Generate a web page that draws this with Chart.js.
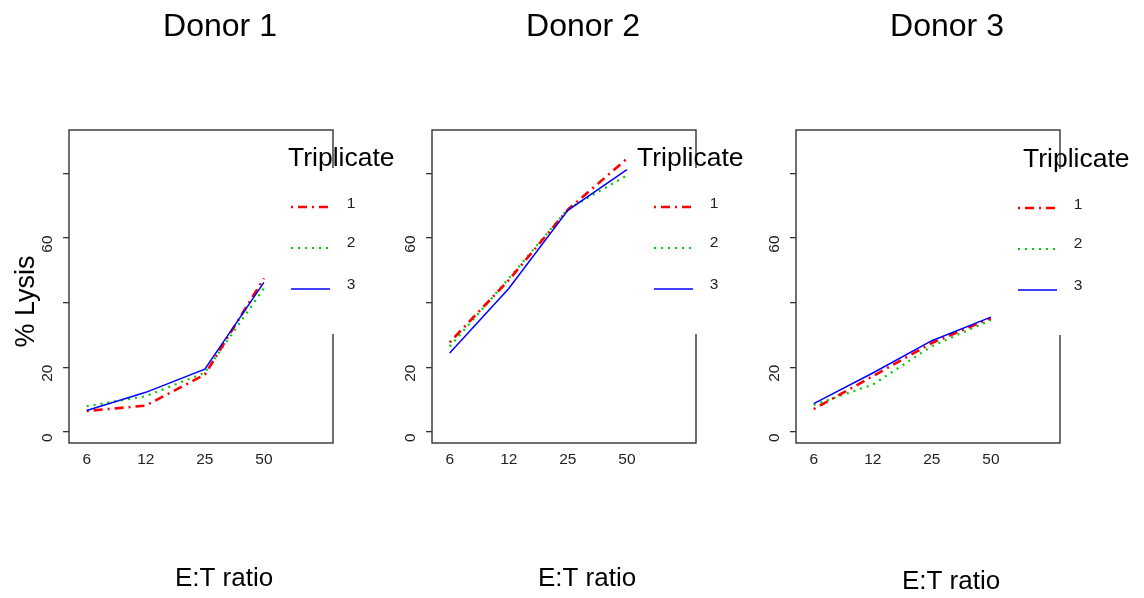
<!DOCTYPE html>
<html><head><meta charset="utf-8">
<script src="https://cdn.jsdelivr.net/npm/chart.js@4.4.1/dist/chart.umd.min.js"></script>
<style>
html,body{margin:0;padding:0;background:#fff;}
#wrap{position:relative;width:1144px;height:598px;overflow:hidden;}
canvas{position:absolute;left:0;top:0;}
</style></head><body>
<div id="wrap">
<canvas id="c1" width="1144" height="598"></canvas>
<canvas id="c2" width="1144" height="598"></canvas>
<canvas id="c3" width="1144" height="598"></canvas>
</div>
<script>
// ---- data ----
const ratioLabels = ['6', '12', '25', '50'];
const panelTitles = ['Donor 1', 'Donor 2', 'Donor 3'];
const seriesNames = ['1', '2', '3'];
const donor1Rep1 = [6.4, 8.1, 17.7, 47.5];
const donor1Rep2 = [7.9, 11.0, 18.3, 44.4];
const donor1Rep3 = [6.6, 12.2, 19.4, 46.3];
const donor2Rep1 = [27.7, 47.0, 68.8, 84.6];
const donor2Rep2 = [26.4, 47.5, 69.0, 79.4];
const donor2Rep3 = [24.4, 44.4, 68.6, 81.2];
const donor3Rep1 = [7.0, 17.2, 27.5, 35.2];
const donor3Rep2 = [8.3, 14.6, 26.5, 34.6];
const donor3Rep3 = [8.7, 18.2, 28.2, 35.5];
const yTickValues = [0, 20, 40, 60, 80];
const yTickLabels = ['0', '20', '', '60', ''];
const legendTitle = 'Triplicate';
const xAxisTitle = 'E:T ratio';
const yAxisTitle = '% Lysis';

// ---- styles / layout ----
const FONT = "'Liberation Sans', Arial, Helvetica, sans-serif";
const seriesStyles = [
  {color: '#ff0000', width: 2.6, dash: [2, 5, 9, 5], order: 2},
  {color: '#00cd00', width: 2.2, dash: [2, 5], order: 3},
  {color: '#0000ff', width: 1.5, dash: [], order: 1}
];
const panelLayout = [
  {boxLeft: 69, legTitleDx: 219, dy: 0, xTitleBase: 586},
  {boxLeft: 432, legTitleDx: 205, dy: 0, xTitleBase: 586},
  {boxLeft: 796, legTitleDx: 227, dy: 1, xTitleBase: 589}
];
const BOX_W = 264, BOX_TOP = 130, BOX_BOTTOM = 443;

function panelPlugin(idx) {
  return {
    id: 'panelDeco' + idx,
    afterDraw(chart) {
      const ctx = chart.ctx;
      const L = panelLayout[idx];
      const a = chart.chartArea;
      ctx.save();
      // box
      ctx.strokeStyle = '#333';
      ctx.lineWidth = 1.4;
      ctx.strokeRect(a.left, a.top, a.right - a.left, a.bottom - a.top);
      // legend background (covers right border)
      ctx.fillStyle = '#fff';
      ctx.fillRect(a.left + 205, 168 + L.dy, 100, 166);
      // legend title
      ctx.fillStyle = '#000';
      ctx.font = '26.5px ' + FONT;
      ctx.textAlign = 'left';
      ctx.textBaseline = 'alphabetic';
      ctx.fillText(legendTitle, a.left + L.legTitleDx, 166 + L.dy);
      // legend entries
      const lineYs = [207, 248, 289];
      const labYs = [203.5, 243, 284.5];
      for (let k = 0; k < 3; k++) {
        const s = seriesStyles[k];
        ctx.strokeStyle = s.color;
        ctx.lineWidth = s.width;
        ctx.setLineDash(s.dash);
        ctx.beginPath();
        ctx.moveTo(a.left + 222, lineYs[k] + L.dy);
        ctx.lineTo(a.left + 261, lineYs[k] + L.dy);
        ctx.stroke();
        ctx.setLineDash([]);
        ctx.fillStyle = '#222';
        ctx.font = '15.5px ' + FONT;
        ctx.textAlign = 'center';
        ctx.textBaseline = 'middle';
        ctx.fillText(seriesNames[k], a.left + 282, labYs[k] + L.dy);
      }
      // panel title
      ctx.fillStyle = '#000';
      ctx.font = '32px ' + FONT;
      ctx.textAlign = 'center';
      ctx.textBaseline = 'alphabetic';
      ctx.fillText(panelTitles[idx], a.left + 151, 36);
      // x axis title
      ctx.font = '26px ' + FONT;
      ctx.fillText(xAxisTitle, a.left + 155, L.xTitleBase);
      // y axis title (first panel only)
      if (idx === 0) {
        ctx.save();
        ctx.translate(34, 301.5);
        ctx.rotate(-Math.PI / 2);
        ctx.font = '27px ' + FONT;
        ctx.textAlign = 'center';
        ctx.textBaseline = 'alphabetic';
        ctx.fillText(yAxisTitle, 0, 0);
        ctx.restore();
      }
      ctx.restore();
    }
  };
}

function makePanel(canvasId, idx, reps) {
  const L = panelLayout[idx];
  const boxRight = L.boxLeft + BOX_W;
  const datasets = reps.map((vals, k) => ({
    label: seriesNames[k],
    data: vals.map((v, i) => ({x: i + 1, y: v})),
    borderColor: seriesStyles[k].color,
    borderWidth: seriesStyles[k].width,
    borderDash: seriesStyles[k].dash,
    order: seriesStyles[k].order,
    pointRadius: 0,
    tension: 0,
    fill: false
  }));
  return new Chart(document.getElementById(canvasId), {
    type: 'line',
    data: {datasets},
    options: {
      responsive: false,
      animation: false,
      events: [],
      layout: {padding: {left: L.boxLeft - 40, right: 1144 - boxRight, top: BOX_TOP, bottom: 598 - BOX_BOTTOM - 30}},
      plugins: {legend: {display: false}, tooltip: {enabled: false}, title: {display: false}},
      scales: {
        x: {
          type: 'linear', min: 0.7, max: 5.17,
          afterBuildTicks: s => { s.ticks = ratioLabels.map((l, i) => ({value: i + 1})); },
          afterFit: s => { s.height = 30; },
          grid: {display: false, drawTicks: false},
          border: {display: false},
          ticks: {
            autoSkip: false, minRotation: 0, maxRotation: 0, padding: 7,
            color: '#222', font: {family: FONT, size: 15.5},
            callback: v => ratioLabels[Math.round(v) - 1]
          }
        },
        y: {
          type: 'linear', min: -3.5, max: 93.5,
          afterBuildTicks: s => { s.ticks = yTickValues.map(v => ({value: v})); },
          afterFit: s => { s.width = 40; },
          grid: {display: true, drawOnChartArea: false, drawTicks: true, tickLength: 6, color: '#333', lineWidth: 1.3},
          border: {display: false},
          ticks: {
            autoSkip: false, minRotation: 90, maxRotation: 90, crossAlign: 'center', padding: 7,
            labelOffset: 6,
            color: '#222', font: {family: FONT, size: 15.5},
            callback: v => yTickLabels[yTickValues.indexOf(v)]
          }
        }
      }
    },
    plugins: [panelPlugin(idx)]
  });
}

makePanel('c1', 0, [donor1Rep1, donor1Rep2, donor1Rep3]);
makePanel('c2', 1, [donor2Rep1, donor2Rep2, donor2Rep3]);
makePanel('c3', 2, [donor3Rep1, donor3Rep2, donor3Rep3]);
</script>
</body></html>
